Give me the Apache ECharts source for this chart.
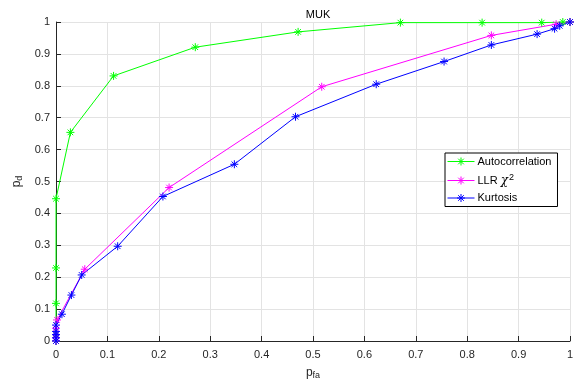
<!DOCTYPE html>
<html>
<head>
<meta charset="utf-8">
<script src="https://cdn.jsdelivr.net/npm/echarts@6/dist/echarts.min.js"></script>
<style>
html, body { margin: 0; padding: 0; background: #fff; }
#chart { width: 579px; height: 385px; }
</style>
</head>
<body>
<div id="chart"></div>
<script>
var seriesNames = ['Autocorrelation', 'LLR χ2', 'Kurtosis'];

var autoX = [0, 0, 0, 0, 0, 0.028, 0.112, 0.271, 0.471, 0.67, 0.829, 0.945, 0.986, 1];
var autoY = [0, 0.02, 0.118, 0.229, 0.446, 0.654, 0.831, 0.921, 0.969, 0.998, 0.998, 0.998, 1, 1];

var llrX = [0, 0, 0, 0, 0.002, 0.056, 0.22, 0.517, 0.847, 0.973, 1];
var llrY = [0, 0.01, 0.02, 0.04, 0.066, 0.225, 0.481, 0.797, 0.958, 0.993, 1];

var kurtX = [0, 0, 0, 0, 0, 0.0115, 0.03, 0.05, 0.12, 0.208, 0.347, 0.466, 0.623, 0.755, 0.847, 0.936, 0.97, 0.98, 1];
var kurtY = [0, 0.01, 0.02, 0.03, 0.05, 0.084, 0.144, 0.207, 0.297, 0.453, 0.554, 0.703, 0.805, 0.876, 0.928, 0.962, 0.979, 0.988, 1];

var colors = ['#00ff00', '#ff00ff', '#0000ff'];

// asterisk marker like matlab '*'
var star = 'path://M0,-5L0,5M-5,0L5,0M-3.5,-3.5L3.5,3.5M-3.5,3.5L3.5,-3.5';
// legend sample: short line with the asterisk in the middle (27 x 8 box)
var legendStar = 'path://M0,4L27,4M13.5,0L13.5,8M9.5,4L17.5,4M10.7,1.2L16.3,6.8M10.7,6.8L16.3,1.2';

function pairs(xs, ys) {
	var out = [];
	for (var i = 0; i < xs.length; i++) out.push([xs[i], ys[i]]);
	return out;
}

function makeSeries(name, xs, ys, c) {
	return {
		name: name,
		type: 'line',
		data: pairs(xs, ys),
		symbol: star,
		symbolSize: 8,
		showSymbol: true,
		lineStyle: { color: c, width: 1 },
		itemStyle: { color: c, borderColor: c, borderWidth: 1 },
		emphasis: { disabled: true },
		animation: false
	};
}

var font = 'Liberation Sans, Arial, Helvetica, sans-serif';
var chart = echarts.init(document.getElementById('chart'));
var option = {
	backgroundColor: '#fff',
	title: {
		text: 'MUK',
		left: 313,
		top: 4,
		textAlign: 'center',
		textStyle: { fontSize: 11, fontWeight: 'normal', color: '#000', fontFamily: font }
	},
	grid: { left: 56, right: 9, top: 22, bottom: 43 },
	legend: {
		orient: 'vertical',
		left: 445,
		top: 153,
		width: 110,
		padding: [3, 6, 3, 2],
		itemGap: 6,
		itemWidth: 27,
		itemHeight: 8,
		icon: legendStar,
		backgroundColor: '#fff',
		borderColor: '#000',
		borderWidth: 1,
		borderRadius: 0,
		itemStyle: { borderWidth: 1 },
		data: seriesNames,
		formatter: function (n) {
			if (n === 'LLR χ2') return '{n|LLR }{c|χ}{s|2}';
			return '{n|' + n + '}';
		},
		textStyle: {
			fontFamily: font,
			fontSize: 11,
			color: '#000',
			padding: [0, 0, 0, -2],
			rich: {
				n: { fontSize: 11, fontFamily: font, color: '#000' },
				c: { fontSize: 12, fontStyle: 'italic', fontFamily: 'DejaVu Serif, serif', color: '#000' },
				s: { fontSize: 9, fontFamily: font, color: '#000', padding: [0, 0, 6, 1] }
			}
		}
	},
	xAxis: {
		type: 'value',
		min: 0,
		max: 1,
		interval: 0.1,
		name: '{p|p}{s|fa}',
		nameLocation: 'middle',
		nameGap: 24,
		nameTextStyle: {
			rich: {
				p: { fontSize: 12, fontFamily: font, color: '#262626' },
				s: { fontSize: 9, fontFamily: font, color: '#262626', padding: [6, 0, 0, 0] }
			}
		},
		axisLine: { show: true, lineStyle: { color: '#262626', width: 1 } },
		axisTick: { show: true, inside: true, length: 5, lineStyle: { color: '#262626' } },
		axisLabel: { fontSize: 11, color: '#262626', fontFamily: font, margin: 8 },
		splitLine: { show: true, lineStyle: { color: '#e3e3e3', width: 1 } }
	},
	yAxis: {
		type: 'value',
		min: 0,
		max: 1,
		interval: 0.1,
		name: '{p|p}{s|d}',
		nameLocation: 'middle',
		nameGap: 30,
		nameTextStyle: {
			rich: {
				p: { fontSize: 12, fontFamily: font, color: '#262626' },
				s: { fontSize: 9, fontFamily: font, color: '#262626', padding: [6, 0, 0, 0] }
			}
		},
		axisLine: { show: true, lineStyle: { color: '#262626', width: 1 } },
		axisTick: { show: true, inside: true, length: 5, lineStyle: { color: '#262626' } },
		axisLabel: { fontSize: 11, color: '#262626', fontFamily: font, margin: 6 },
		splitLine: { show: true, lineStyle: { color: '#e3e3e3', width: 1 } }
	},
	series: [
		makeSeries(seriesNames[0], autoX, autoY, colors[0]),
		makeSeries(seriesNames[1], llrX, llrY, colors[1]),
		makeSeries(seriesNames[2], kurtX, kurtY, colors[2])
	]
};
chart.setOption(option);
</script>
</body>
</html>
